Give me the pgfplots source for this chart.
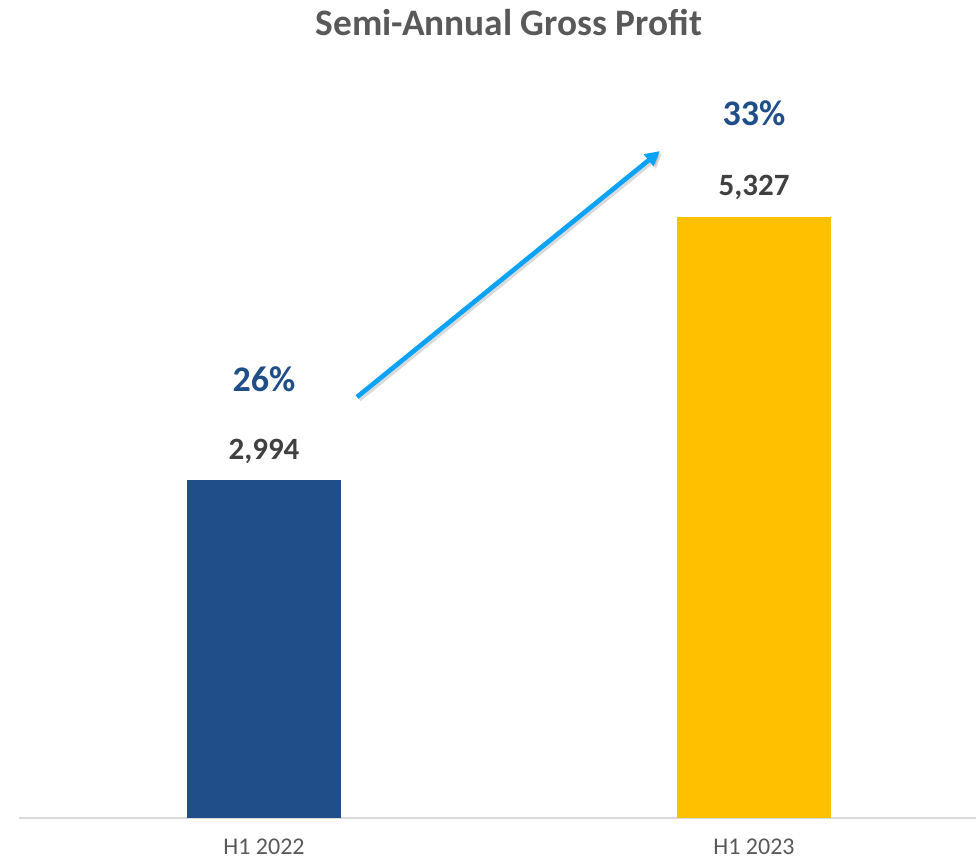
\documentclass[border=0pt]{standalone}
\usepackage{pgfplots}
\pgfplotsset{compat=1.18}
\usepackage{fontspec}
\setmainfont{Carlito}
\usetikzlibrary{arrows.meta}
\definecolor{barblue}{HTML}{1F4E89}
\definecolor{bargold}{HTML}{FFC000}
\definecolor{valgray}{HTML}{404040}
\definecolor{titlegray}{HTML}{595959}
\definecolor{tickgray}{HTML}{595959}
\definecolor{axisgray}{HTML}{D9D9D9}
\definecolor{arrowblue}{HTML}{0BA3F7}
\begin{document}
\begin{tikzpicture}
\useasboundingbox (-14.25pt,-34.5pt) rectangle (717.75pt,613.5pt);
\begin{axis}[
  at={(0,0)}, anchor=south west,
  scale only axis, width=717.75pt, height=613.5pt,
  xmin=-0.5, xmax=1.453, ymin=0, ymax=7250,
  axis y line=none, axis x line=bottom,
  x axis line style={-, draw=axisgray, line width=1.5pt},
  xtick={0,1}, xticklabels={H1 2022, H1 2023}, major tick length=0pt,
  xticklabel style={font=\fontsize{18}{18}\selectfont, text=tickgray, anchor=base, inner sep=0pt, yshift=-27.5pt},
  ytick=\empty,
  ybar, bar width=115.5pt, bar shift=0pt,
  clip=false,
  nodes near coords={\pgfmathprintnumber[assume math mode=true, 1000 sep={,}]{\pgfplotspointmeta}},
  every node near coord/.append style={anchor=base, yshift=15.75pt, font=\bfseries\fontsize{23.25}{23.25}\selectfont, text=valgray},
]
\addplot[fill=barblue, draw=none] coordinates {(0,2994)};
\addplot[fill=bargold, draw=none] coordinates {(1,5327)};
\node[anchor=base, font=\bfseries\fontsize{27}{27}\selectfont, text=barblue, yshift=66.75pt] at (axis cs:0,2994) {26\%};
\node[anchor=base, font=\bfseries\fontsize{27}{27}\selectfont, text=barblue, yshift=68.6pt] at (axis cs:1,5327) {33\%};
\draw[black, opacity=0.15, line width=4pt, xshift=1.5pt, yshift=-1.5pt, -{Triangle[length=11pt,width=12pt]}] (axis cs:0.1898,3731) -- (axis cs:0.808,5911);
\draw[arrowblue, line width=3.5pt, -{Triangle[length=11pt,width=11pt]}] (axis cs:0.1898,3731) -- (axis cs:0.808,5911);
\end{axis}
\node[font=\bfseries\fontsize{28}{28}\selectfont, text=titlegray, anchor=base] at (367.5pt,586.5pt) {Semi-Annual Gross Profit};
\end{tikzpicture}
\end{document}
